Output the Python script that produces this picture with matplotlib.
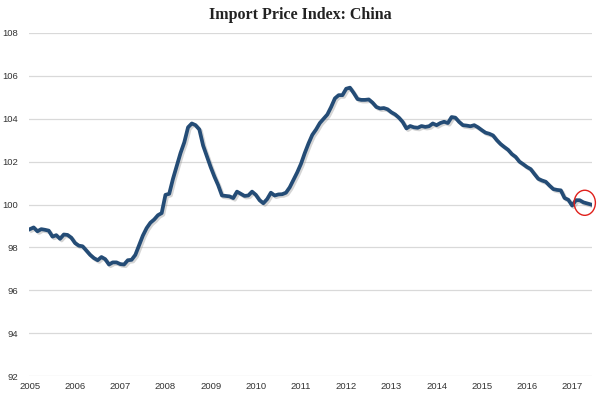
import numpy as np
import matplotlib
matplotlib.use("Agg")
import matplotlib.pyplot as plt
import matplotlib.patheffects as pe
from matplotlib.patches import Ellipse

start_year = 2005
# monthly index values, Jan 2005 .. Jun 2017
v2005 = [98.85, 98.93, 98.75, 98.85, 98.82, 98.78, 98.5, 98.57, 98.4, 98.6, 98.58, 98.45]
v2006 = [98.2, 98.08, 98.05, 97.85, 97.65, 97.5, 97.4, 97.55, 97.45, 97.2, 97.3, 97.3]
v2007 = [97.22, 97.2, 97.4, 97.42, 97.65, 98.1, 98.55, 98.9, 99.15, 99.3, 99.5, 99.6]
v2008 = [100.45, 100.5, 101.2, 101.8, 102.4, 102.9, 103.6, 103.78, 103.7, 103.5, 102.75, 102.25]
v2009 = [101.75, 101.3, 100.9, 100.42, 100.4, 100.38, 100.3, 100.6, 100.5, 100.4, 100.42, 100.6]
v2010 = [100.45, 100.2, 100.06, 100.25, 100.55, 100.42, 100.47, 100.48, 100.55, 100.8, 101.15, 101.5]
v2011 = [101.9, 102.4, 102.85, 103.25, 103.5, 103.8, 104.0, 104.2, 104.55, 104.95, 105.1, 105.1]
v2012 = [105.4, 105.45, 105.2, 104.92, 104.88, 104.88, 104.9, 104.75, 104.55, 104.48, 104.5, 104.44]
v2013 = [104.3, 104.2, 104.05, 103.85, 103.55, 103.66, 103.6, 103.58, 103.66, 103.62, 103.65, 103.78]
v2014 = [103.7, 103.8, 103.86, 103.8, 104.08, 104.05, 103.85, 103.7, 103.68, 103.65, 103.7, 103.6]
v2015 = [103.47, 103.35, 103.3, 103.22, 103.0, 102.82, 102.68, 102.55, 102.35, 102.22, 102.0, 101.88]
v2016 = [101.75, 101.65, 101.42, 101.2, 101.12, 101.06, 100.88, 100.72, 100.68, 100.66, 100.3, 100.22]
v2017 = [99.95, 100.2, 100.2, 100.1, 100.05, 100.0]

year_ticks = list(range(2005, 2018))
y_ticks = [92, 94, 96, 98, 100, 102, 104, 106, 108]

values = v2005 + v2006 + v2007 + v2008 + v2009 + v2010 + v2011 + v2012 + v2013 + v2014 + v2015 + v2016 + v2017
dates = start_year + np.arange(len(values)) / 12.0

fig = plt.figure(figsize=(6, 3.96), dpi=100)
ax = fig.add_axes([29 / 600, 20 / 396, 563 / 600, 343 / 396])

ax.plot(dates, values, color="#244c76", lw=2.7, solid_joinstyle="round",
        path_effects=[pe.SimpleLineShadow(offset=(1.2, -1.2), shadow_color="#888888", alpha=0.35),
                      pe.Normal()], zorder=3)

# red circle around the latest readings
ax.add_patch(Ellipse((2017.28, 100.08), 0.47, 1.17, fill=False, edgecolor="#e0201b",
                     lw=1.0, clip_on=False, zorder=4))

ax.set_xlim(2004.98, 2017.44)
ax.set_ylim(92, 108)
ax.set_xticks(year_ticks)
ax.set_xticklabels([str(y) for y in year_ticks])
ax.set_yticks(y_ticks)
ax.grid(axis="y", color="#d9d9d9", lw=0.9)
ax.set_axisbelow(True)
for s in ax.spines.values():
    s.set_visible(False)
ax.tick_params(axis="both", length=0, labelsize=6.8, labelcolor="#333333")
ax.tick_params(axis="y", pad=8)
ax.tick_params(axis="x", pad=4)
for lbl in ax.get_xticklabels() + ax.get_yticklabels():
    lbl.set_family("Liberation Sans")

fig.text(0.5, 1 - 15 / 396, "Import Price Index: China", ha="center", va="center",
         fontsize=11.5, fontweight="bold", family="Liberation Serif", color="#222222")

fig.savefig("out.png", dpi=100)
